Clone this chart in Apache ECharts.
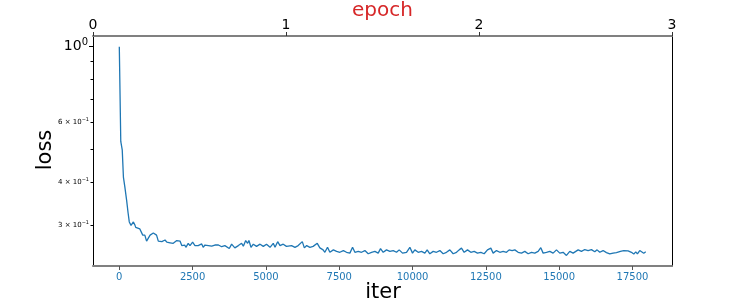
<!DOCTYPE html>
<html><head><meta charset="utf-8">
<script src="https://cdn.jsdelivr.net/npm/echarts@6/dist/echarts.min.js"></script>
<style>html,body{margin:0;padding:0;background:#fff}#c{width:747px;height:299px}</style>
</head><body><div id="c"></div>
<script>
const iters = [
0,50,100,140,190,250,300,340,400,450,480,530,560,620,700,760,800,820,870,930,990,
1050,1100,1160,1220,1270,1330,1390,1450,1500,1560,1620,1670,1730,1790,1840,1900,1960,2020,2070,2130,2180,2230,2270,2350,2410,2500,2580,2640,2690,2750,2810,2860,2920,2980,3040,3090,3150,3200,3260,3320,3380,3430,3490,3550,3600,3660,3750,
3830,3940,4060,4170,4230,4310,4375,4420,4490,4570,4680,4800,4910,5020,5140,5250,5310,5400,5480,5590,5700,5875,5990,6100,6240,6310,6390,6500,6610,6750,6840,6950,7010,7100,7180,7300,7410,7520,7640,
7749,7863,7954,8033,8147,8260,8374,8488,8544,8601,8715,8828,8908,8999,9112,9226,9340,9453,9544,9658,9794,9908,9998,10078,10192,10305,10419,10498,10589,10703,10816,10930,11044,11157,11271,11385,11498,11589,
11669,11760,11874,11987,12101,12214,12328,12442,12555,12669,12748,12862,12976,13089,13203,13294,13396,13487,13600,13714,13828,13941,14055,14168,14282,14373,14452,14566,14680,14793,14907,15020,15134,15248,15361,15475,
15646,15759,15873,15986,16100,16214,16293,16384,16498,16611,16725,16838,16952,17088,17202,17350,17463,17543,17611,17668,17747,17804,17884,17952
];
const losses = [
0.995,0.526,0.497,0.414,0.387,0.354,0.325,0.306,0.299,0.303,0.306,0.300,0.295,0.296,0.292,0.289,0.280,0.277,0.280,0.269,0.271,
0.280,0.278,0.284,0.281,0.280,0.269,0.267,0.268,0.269,0.271,0.267,0.265,0.266,0.264,0.265,0.267,0.270,0.268,0.269,0.261,0.264,0.262,0.258,0.265,0.261,0.267,0.261,0.262,0.261,0.263,0.264,0.258,0.262,0.263,0.261,0.261,0.260,0.258,0.262,0.265,0.262,0.261,0.259,0.259,0.261,0.261,0.256,
0.2635,0.257,0.261,0.265,0.260,0.270,0.265,0.270,0.258,0.2635,0.2596,0.2635,0.2596,0.2635,0.258,0.265,0.258,0.268,0.261,0.2635,0.2596,0.261,0.258,0.261,0.268,0.257,0.261,0.258,0.2596,0.265,0.257,0.2536,0.2495,0.258,0.2495,0.2536,0.251,0.2495,0.2524,
0.2495,0.2481,0.258,0.2495,0.251,0.2495,0.2524,0.247,0.2443,0.2495,0.251,0.2481,0.2557,0.2495,0.2536,0.251,0.2524,0.2495,0.2536,0.2481,0.2495,0.258,0.2481,0.2536,0.2495,0.251,0.2481,0.2536,0.247,0.251,0.2495,0.2524,0.247,0.2495,0.2536,0.247,0.2495,0.2536,
0.2566,0.2495,0.2536,0.2495,0.251,0.2481,0.2495,0.247,0.2536,0.2566,0.2481,0.2524,0.2495,0.251,0.2495,0.2536,0.2524,0.2536,0.2495,0.2481,0.251,0.247,0.2495,0.2481,0.251,0.2573,0.2481,0.2495,0.251,0.2481,0.2536,0.2481,0.2495,0.2443,0.251,0.2481,
0.2536,0.251,0.2542,0.2524,0.254,0.2503,0.2536,0.2495,0.2524,0.249,0.2468,0.248,0.249,0.251,0.2524,0.252,0.2495,0.2465,0.2503,0.2468,0.2524,0.2548,0.248,0.2503
];
const iterTicks = [0,2500,5000,7500,10000,12500,15000,17500];
const epochTicks = [0,1,2,3];
const lossLabelTicks = [1,0.6,0.4,0.3];
const lossMajorTicks = [1];
const lossMinorTicks = [0.9,0.8,0.7,0.6,0.5,0.4,0.3];

const FONT = 'DejaVu Sans';
const yMin = 0.2275, yMax = 1.0696;
const chart = echarts.init(document.getElementById('c'), null, {renderer:'canvas'});
const data = iters.map((x,i)=>[x, losses[i]]);

chart.setOption({
  animation:false,
  backgroundColor:'#fff',
  grid:{left:93, right:75, top:36, bottom:33, containLabel:false, outerBoundsMode:'none'},
  xAxis:[
    {type:'value', position:'bottom', min:-897, max:18847,
     axisLine:{show:true, onZero:false, lineStyle:{color:'#808080', width:2}},
     axisTick:{show:true, customValues:iterTicks, length:4, lineStyle:{color:'#555'}},
     axisLabel:{customValues:iterTicks, color:'#1f77b4', fontSize:10, fontFamily:FONT, margin:6,
       formatter:function(v){return String(Math.round(v));}},
     splitLine:{show:false}},
    {type:'value', position:'top', min:0, max:3, interval:1,
     axisLine:{show:true, onZero:false, lineStyle:{color:'#808080', width:2}},
     axisTick:{show:true, customValues:epochTicks, length:4, lineStyle:{color:'#333'}},
     axisLabel:{customValues:epochTicks, color:'#000', fontSize:14, fontFamily:FONT, margin:4,
       formatter:function(v){return String(Math.round(v));}},
     splitLine:{show:false}}
  ],
  yAxis:[
    {type:'log', logBase:10, min:yMin, max:yMax, position:'left',
     axisLine:{show:true, onZero:false, lineStyle:{color:'#000', width:1}},
     axisTick:{show:true, customValues:lossMajorTicks, length:4, lineStyle:{color:'#000'}},
     axisLabel:{customValues:lossLabelTicks, margin:4, fontFamily:FONT,
       formatter:function(v){
         if (Math.abs(v-1)<1e-6) return '{a|10}{sa|0}';
         return '{b|'+Math.round(v*10)+' × 10}{sb|−1}';
       },
       rich:{
         a:{fontSize:14, color:'#000', fontFamily:FONT},
         sa:{fontSize:10, color:'#000', fontFamily:FONT, padding:[0,1,8,0]},
         b:{fontSize:7, color:'#000', fontFamily:FONT},
         sb:{fontSize:5, color:'#000', fontFamily:FONT, padding:[0,0,4,0]}
       }},
     splitLine:{show:false}},
    {type:'log', logBase:10, min:yMin, max:yMax, position:'left',
     axisLine:{show:false, onZero:false},
     axisTick:{show:true, customValues:lossMinorTicks, length:2.5, lineStyle:{color:'#000'}},
     axisLabel:{show:false}, splitLine:{show:false}},
    {type:'log', logBase:10, min:yMin, max:yMax, position:'right',
     axisLine:{show:true, onZero:false, lineStyle:{color:'#000', width:1}},
     axisTick:{show:false}, axisLabel:{show:false}, splitLine:{show:false}}
  ],
  series:[{type:'line', data:data, xAxisIndex:0, yAxisIndex:0, showSymbol:false, symbol:'none',
    lineStyle:{color:'#1f77b4', width:1.3}, silent:true}],
  graphic:[
    {type:'text', x:382.5, y:11, style:{text:'epoch', font:'20px "DejaVu Sans"', fill:'#d62728', align:'center', verticalAlign:'middle'}},
    {type:'text', x:46, y:150, rotation:Math.PI/2, style:{text:'loss', font:'21px "DejaVu Sans"', fill:'#000', align:'center', verticalAlign:'middle'}},
    {type:'text', x:383, y:293, style:{text:'iter', font:'21px "DejaVu Sans"', fill:'#000', align:'center', verticalAlign:'middle'}}
  ]
});
</script></body></html>
